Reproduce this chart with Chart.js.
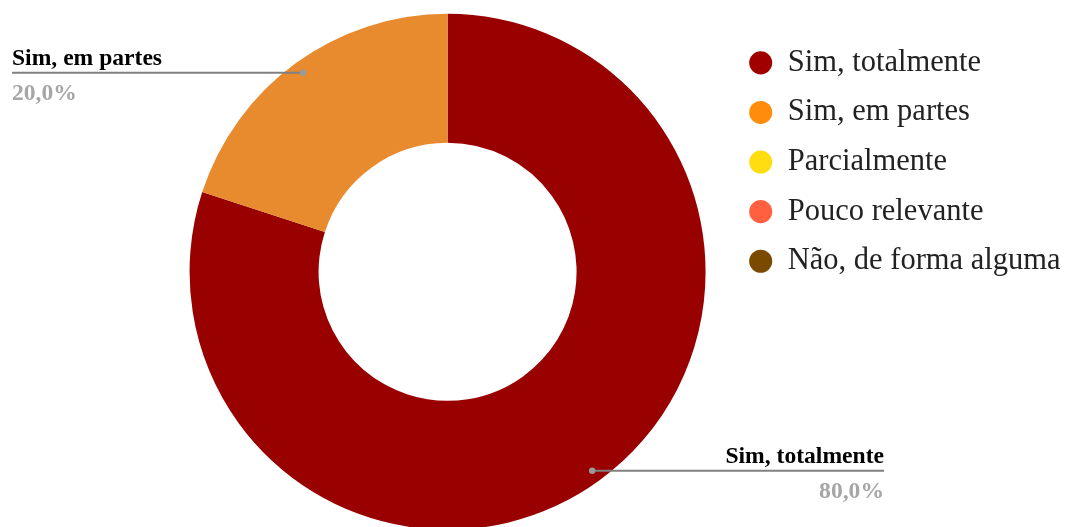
<!DOCTYPE html>
<html>
<head>
<meta charset="utf-8">
<script src="https://cdn.jsdelivr.net/npm/chart.js@4.4.1/dist/chart.umd.min.js"></script>
<style>
  html, body { margin: 0; padding: 0; background: #fff; overflow: hidden; }
  #wrap { position: relative; width: 1071px; height: 527px; }
</style>
</head>
<body>
<div id="wrap"><canvas id="c"></canvas></div>
<script>
// Answer categories and their shares (percent of responses)
const categories = ['Sim, totalmente', 'Sim, em partes', 'Parcialmente', 'Pouco relevante', 'Não, de forma alguma'];
const shares = [80, 20, 0, 0, 0];
const sliceColors = ['#990000', '#e88b2e', '#ffd700', '#ff6347', '#7b4a00'];
const legendColors = ['#a00000', '#ff8c0a', '#ffdd11', '#ff6040', '#7a4a00'];

const SERIF = "'Liberation Serif', 'Times New Roman', serif";

// Draws a leader line from each non-empty slice to its name and percentage
const callouts = {
  id: 'callouts',
  afterDatasetsDraw(chart, args, opts) {
    const meta = chart.getDatasetMeta(0);
    const data = chart.data.datasets[0].data;
    const total = data.reduce((a, b) => a + b, 0);
    const ctx = chart.ctx;
    meta.data.forEach((arc, i) => {
      if (!data[i]) return;
      const p = arc.getProps(['x', 'y', 'startAngle', 'endAngle', 'outerRadius'], true);
      const mid = (p.startAngle + p.endAngle) / 2;
      const r = p.outerRadius - opts.inset;
      const px = p.x + Math.cos(mid) * r;
      const py = p.y + Math.sin(mid) * r;
      const onLeft = px < p.x;
      const ex = onLeft ? opts.leftEdge : opts.rightEdge;
      ctx.save();
      ctx.strokeStyle = opts.lineColor;
      ctx.lineWidth = 2;
      ctx.beginPath();
      ctx.moveTo(px, py);
      ctx.lineTo(ex, py);
      ctx.stroke();
      ctx.fillStyle = opts.dotColor;
      ctx.beginPath();
      ctx.arc(px, py, 3.2, 0, Math.PI * 2);
      ctx.fill();
      ctx.textAlign = onLeft ? 'left' : 'right';
      ctx.textBaseline = 'alphabetic';
      ctx.font = 'bold ' + opts.fontSize + 'px ' + SERIF;
      ctx.fillStyle = opts.titleColor;
      ctx.fillText(chart.data.labels[i], ex, py - 7.5);
      ctx.fillStyle = opts.valueColor;
      const pct = (data[i] / total * 100).toFixed(1).replace('.', ',') + '%';
      ctx.fillText(pct, ex, py + 27.5);
      ctx.restore();
    });
  }
};

new Chart(document.getElementById('c'), {
  type: 'doughnut',
  data: {
    labels: categories,
    datasets: [{
      data: shares,
      backgroundColor: sliceColors,
      borderWidth: 0,
      radius: 258,
      cutout: '50%',
      clip: false
    }]
  },
  options: {
    responsive: true,
    maintainAspectRatio: false,
    animation: false,
    devicePixelRatio: 1,
    layout: { padding: { left: 165.4, right: 0.5, top: 28.5, bottom: 11.9 } },
    plugins: {
      tooltip: { enabled: false },
      legend: {
        position: 'right',
        align: 'start',
        labels: {
          usePointStyle: true,
          pointStyle: 'circle',
          boxWidth: 23.7,
          boxHeight: 16.3,
          padding: 19.1,
          color: '#222',
          font: { family: SERIF, size: 30.5 },
          generateLabels(chart) {
            return chart.data.labels.map((t, i) => ({
              text: t,
              fillStyle: legendColors[i],
              strokeStyle: legendColors[i],
              lineWidth: 0,
              pointStyle: 'circle',
              hidden: false,
              index: i,
              fontColor: '#222'
            }));
          }
        }
      },
      callouts: {
        inset: 12,
        leftEdge: 12,
        rightEdge: 884,
        fontSize: 23.6,
        lineColor: '#808080',
        dotColor: '#9a9a9a',
        titleColor: '#000',
        valueColor: '#a6a6a6'
      }
    }
  },
  plugins: [callouts]
});
</script>
</body>
</html>
